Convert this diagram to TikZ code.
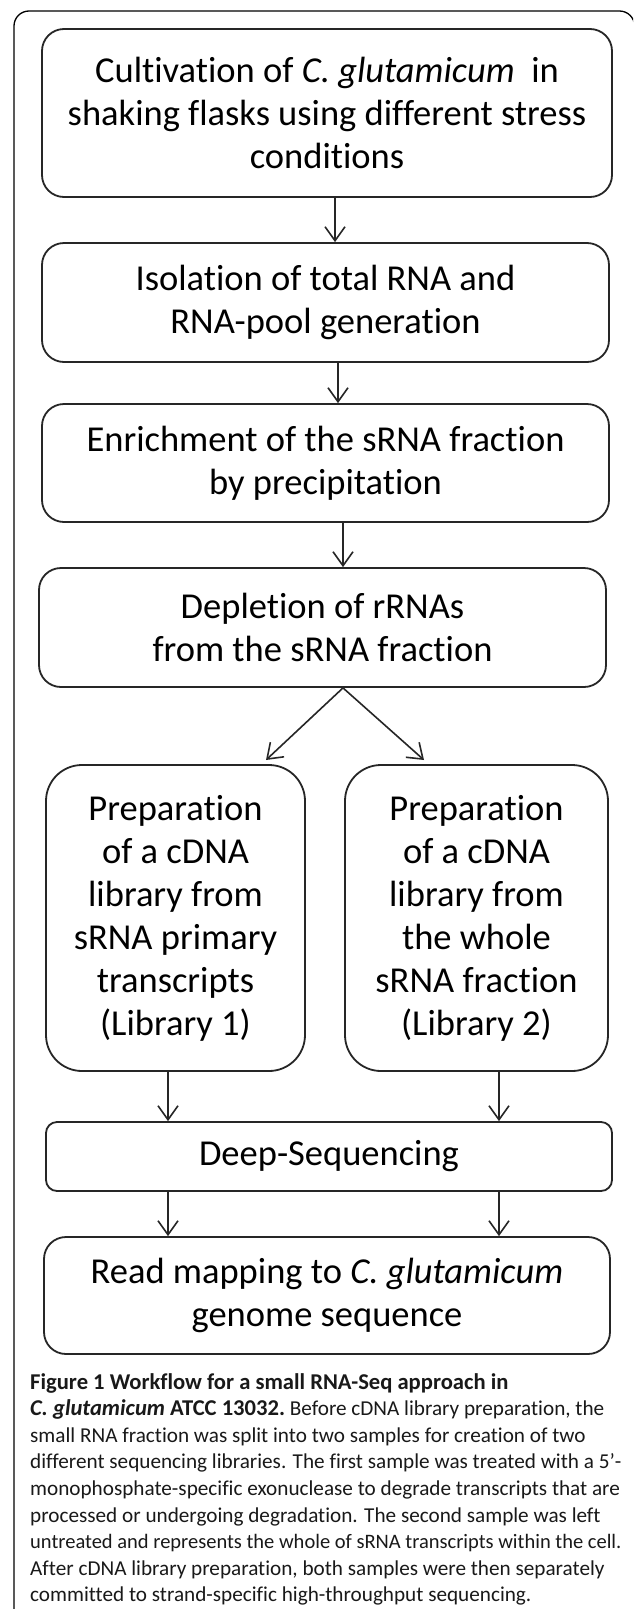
\documentclass[tikz,border=0pt]{standalone}
\usepackage{fontspec}
\setmainfont{Carlito}[Ligatures=NoCommon]
\usetikzlibrary{arrows.meta}
\newcommand{\capbold}{\fontsize{22.6}{26}\selectfont\bfseries}
\begin{document}
\begin{tikzpicture}[x=1pt,y=-1pt,
  box/.style={draw=black!85, line width=1.8pt, rounded corners=22pt, align=center, inner sep=0pt,
    font=\fontsize{36.5}{43}\selectfont},
  arr/.style={draw=black!85, line width=1.6pt, -{Straight Barb[length=14pt,width=20pt]}},
  capline/.style={anchor=base west, inner sep=0pt, text=black!90, font=\fontsize{21.2}{26}\selectfont},
  frame/.style={draw=black, line width=1.3pt, rounded corners=15pt}]
\clip (0,0) rectangle (633,1609);
\useasboundingbox (0,0) rectangle (633,1609);
\fill[white] (0,0) rectangle (633,1609);
% outer frame
\draw[frame] (14,1640) -- (14,11) -- (634.5,11) -- (634.5,1640);

% boxes
\node[box, minimum width=570pt, minimum height=168pt] (b1) at (327,113)
  {Cultivation of \textit{C. glutamicum}\ \ in\\shaking flasks using different stress\\conditions};
\node[box, minimum width=567pt, minimum height=119pt] (b2) at (325.5,302.5)
  {Isolation of total RNA and\\RNA-pool generation};
\node[box, minimum width=567pt, minimum height=118pt] (b3) at (325.5,463)
  {Enrichment of the sRNA fraction\\by precipitation};
\node[box, minimum width=567pt, minimum height=119pt] (b4) at (322.5,627.5)
  {Depletion of rRNAs\\from the sRNA fraction};
\node[box, rounded corners=36pt, minimum width=259pt, minimum height=306pt] (l1) at (175.5,918)
  {Preparation\\of a cDNA\\library from\\sRNA primary\\transcripts\\(Library 1)};
\node[box, rounded corners=36pt, minimum width=263pt, minimum height=306pt] (l2) at (476.5,918)
  {Preparation\\of a cDNA\\library from\\the whole\\sRNA fraction\\(Library 2)};
\node[box, rounded corners=11pt, minimum width=566pt, minimum height=69pt] (ds) at (329,1156.5)
  {Deep-Sequencing};
\node[box, rounded corners=22pt, minimum width=566pt, minimum height=117pt] (rm) at (327,1295.5)
  {Read mapping to \textit{C. glutamicum}\\genome sequence};

% connectors
\draw[arr] ([xshift=8pt]b1.south) -- ([xshift=8pt]b1.south |- b2.north);
\draw[arr] ([xshift=12.5pt]b2.south) -- ([xshift=12.5pt]b2.south |- b3.north);
\draw[arr] ([xshift=17.5pt]b3.south) -- ([xshift=17.5pt]b3.south |- b4.north);
\coordinate (split) at ([xshift=20.5pt]b4.south);
\coordinate (t1) at (266,760);
\coordinate (t2) at (424,760);
\draw[arr] (split) -- (t1);
\draw[arr] (split) -- (t2);
\draw[arr] ([xshift=-7.5pt]l1.south) -- ([xshift=-7.5pt]l1.south |- ds.north);
\draw[arr] ([xshift=22.5pt]l2.south) -- ([xshift=22.5pt]l2.south |- ds.north);
\draw[arr] ([xshift=-161pt]ds.south) -- ([xshift=-161pt]ds.south |- rm.north);
\draw[arr] ([xshift=170pt]ds.south) -- ([xshift=170pt]ds.south |- rm.north);

% caption
\node[capline] (c1) at (30,1389) {\capbold Figure 1 Workflow for a small RNA-Seq approach in};
\node[capline] (c2) at (30,1415.6) {{\capbold\textit{C. glutamicum} ATCC 13032.}\ Before cDNA library preparation, the};
\node[capline] (c3) at (30,1442.2) {small RNA fraction was split into two samples for creation of two};
\node[capline] (c4) at (30,1468.8) {different sequencing libraries. The first sample was treated with a 5\textquoteright-};
\node[capline] (c5) at (30,1495.4) {monophosphate-specific exonuclease to degrade transcripts that are};
\node[capline] (c6) at (30,1522) {processed or undergoing degradation. The second sample was left};
\node[capline, font=\fontsize{20.5}{26}\selectfont] (c7) at (30,1548.6) {untreated and represents the whole of sRNA transcripts within the cell.};
\node[capline] (c8) at (30,1575.2) {After cDNA library preparation, both samples were then separately};
\node[capline] (c9) at (30,1601.8) {committed to strand-specific high-throughput sequencing.};
\end{tikzpicture}
\end{document}
